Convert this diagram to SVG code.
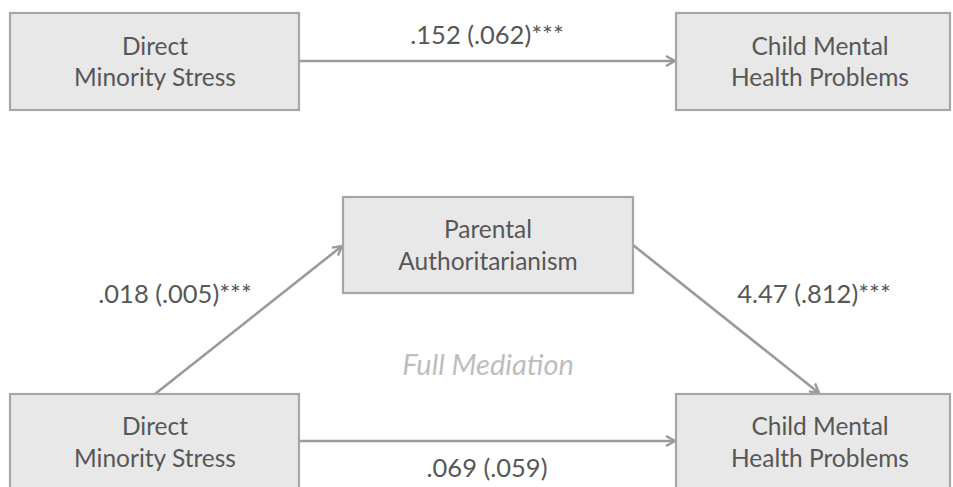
<svg xmlns="http://www.w3.org/2000/svg" width="953" height="487" viewBox="0 0 953 487">
<defs>
<style>
.box{fill:#e8e8e8;stroke:#a6a6a6;stroke-width:2.2}
.t{font-family:Lato,"Liberation Sans",sans-serif;font-size:24.5px;fill:#575757;text-anchor:middle}
.l{font-size:25.5px}
.c{fill:none;stroke:#9a9a9a;stroke-width:2.6}
.fm{font-family:Lato,"Liberation Sans",sans-serif;font-size:29px;font-style:italic;fill:#bdbdbd;text-anchor:middle}
</style>
<marker id="ah" viewBox="0 0 12 12" refX="10" refY="6" markerWidth="12" markerHeight="12" markerUnits="userSpaceOnUse" orient="auto">
<path d="M1,1 L10,6 L1,11" fill="none" stroke="#9a9a9a" stroke-width="2.4"/>
</marker>
</defs>
<rect width="953" height="487" fill="#ffffff"/>
<g id="connectors">
<line class="c" x1="299" y1="61" x2="675" y2="61" marker-end="url(#ah)"/>
<line class="c" x1="155" y1="394" x2="342" y2="246" marker-end="url(#ah)"/>
<line class="c" x1="633" y1="245" x2="819" y2="393" marker-end="url(#ah)"/>
<line class="c" x1="299" y1="441" x2="675" y2="441" marker-end="url(#ah)"/>
</g>
<g id="n1">
<rect class="box" x="10" y="13" width="289" height="97"/>
<text class="t" x="155" y="55">Direct</text>
<text class="t" x="155" y="86">Minority Stress</text>
</g>
<g id="n2">
<rect class="box" x="676" y="13" width="274" height="97"/>
<text class="t" x="820" y="55">Child Mental</text>
<text class="t" x="820" y="86">Health Problems</text>
</g>
<g id="n3">
<rect class="box" x="343" y="197" width="290" height="96"/>
<text class="t" x="488" y="238">Parental</text>
<text class="t" x="488" y="270">Authoritarianism</text>
</g>
<g id="n4">
<rect class="box" x="10" y="394" width="289" height="100"/>
<text class="t" x="155" y="435">Direct</text>
<text class="t" x="155" y="467">Minority Stress</text>
</g>
<g id="n5">
<rect class="box" x="676" y="394" width="274" height="100"/>
<text class="t" x="820" y="435">Child Mental</text>
<text class="t" x="820" y="467">Health Problems</text>
</g>
<g id="labels">
<text class="t l" x="487" y="44">.152 (.062)***</text>
<text class="t l" x="175" y="303">.018 (.005)***</text>
<text class="t l" x="814" y="303">4.47 (.812)***</text>
<text class="t l" x="487" y="477">.069 (.059)</text>
<text class="fm" x="488" y="375">Full Mediation</text>
</g>
</svg>
